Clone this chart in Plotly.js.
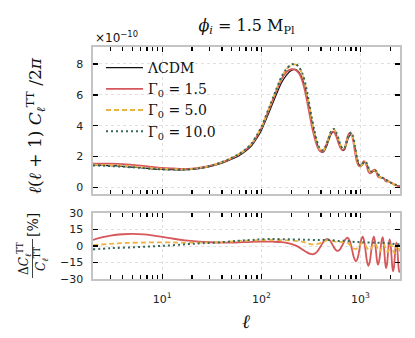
<!DOCTYPE html>
<html><head><meta charset="utf-8">
<script src="https://cdn.plot.ly/plotly-3.0.1.min.js"></script>
<style>html,body{margin:0;padding:0;background:#fff}#chart{width:415px;height:338px}</style>
</head><body><div id="chart"></div>
<script>
// ---- data ----
const ell = [2,3,4,6,8,10,13,16,20,25,30,40,50,60,70,80,90,100,120,140,160,180,200,220,240,260,280,300,320,340,360,380,400,420,450,480,510,540,570,600,630,660,690,720,760,800,840,880,920,960,1000,1040,1080,1120,1160,1200,1250,1300,1350,1400,1450,1500,1600,1700,1800,1900,2000,2200,2500];
const lcdm = [1.47,1.42,1.37,1.28,1.21,1.17,1.15,1.14,1.17,1.25,1.35,1.58,1.83,2.08,2.38,2.72,3.2,3.7,4.9,5.95,6.8,7.3,7.58,7.65,7.45,7.0,6.3,5.35,4.4,3.6,2.95,2.52,2.32,2.3,2.6,3.1,3.5,3.6,3.4,3.0,2.62,2.4,2.45,2.8,3.25,3.42,3.2,2.55,1.9,1.5,1.36,1.45,1.6,1.65,1.5,1.25,1.03,1.0,1.05,1.08,1.02,0.85,0.65,0.58,0.5,0.42,0.33,0.2,0.07];
const gamma15 = [1.55,1.55,1.52,1.42,1.33,1.27,1.23,1.2,1.22,1.3,1.4,1.63,1.89,2.15,2.46,2.82,3.32,3.84,5.09,6.17,7.04,7.5,7.66,7.62,7.38,6.85,6.02,5.03,4.08,3.34,2.79,2.44,2.32,2.36,2.75,3.27,3.6,3.58,3.3,2.87,2.54,2.42,2.55,2.98,3.48,3.52,3.07,2.27,1.65,1.41,1.37,1.55,1.7,1.6,1.34,1.03,0.91,0.98,1.13,1.14,0.96,0.71,0.64,0.63,0.4,0.39,0.34,0.18,0.06];
const gamma50 = [1.48,1.45,1.41,1.32,1.25,1.21,1.19,1.18,1.21,1.29,1.39,1.64,1.91,2.18,2.49,2.86,3.37,3.9,5.17,6.27,7.16,7.68,7.93,7.97,7.78,7.28,6.49,5.47,4.47,3.65,2.99,2.57,2.38,2.38,2.72,3.26,3.68,3.76,3.54,3.11,2.71,2.5,2.55,2.91,3.35,3.44,3.17,2.49,1.86,1.48,1.37,1.48,1.64,1.67,1.49,1.23,0.99,0.99,1.06,1.1,1.02,0.83,0.63,0.59,0.49,0.4,0.33,0.19,0.07];
const gamma100 = [1.43,1.39,1.35,1.27,1.21,1.17,1.16,1.16,1.19,1.28,1.39,1.64,1.91,2.18,2.5,2.87,3.39,3.93,5.2,6.3,7.2,7.7,7.96,8.0,7.8,7.35,6.62,5.62,4.63,3.79,3.1,2.65,2.44,2.42,2.74,3.27,3.69,3.79,3.57,3.14,2.74,2.51,2.57,2.93,3.4,3.56,3.33,2.65,1.97,1.55,1.41,1.5,1.65,1.7,1.55,1.29,1.06,1.03,1.08,1.11,1.05,0.88,0.67,0.6,0.51,0.43,0.34,0.2,0.07];

const ellRes15 = [2,2.5,3,4,5,6.5,8,10,13,17,22,30,40,55,75,100,130,160,190,220,250,285,310,330,362,395,428,460,491,522,554,585,624,662,701,740,780,820,860,900,937,975,1012,1050,1087,1125,1162,1200,1240,1280,1320,1360,1395,1430,1465,1500,1542,1585,1628,1670,1705,1740,1775,1810,1850,1890,1930,1970,2010,2050,2090,2130,2172,2215,2258,2300,2340,2380,2420,2460,2500];
const res15 = [5.5,8,9.5,10.7,11,10.6,9.6,8.2,6.6,5.2,4.2,3.4,3.1,3.2,3.6,3.9,3.9,3.5,2.3,0.5,-2.2,-5.5,-7.1,-7.5,-5.5,-0.5,4.5,6.5,4.9,1.0,-2.9,-4.5,-2.8,1.5,5.8,7.5,4.4,-3.3,-10.9,-14,-10.7,-2.8,5.2,8.5,4.6,-4.8,-14.1,-18,-14.1,-4.8,4.6,8.5,4.8,-4.3,-13.3,-17,-13.4,-4.5,4.4,8,3.9,-6,-15.9,-20,-16.2,-7,2.2,6,1.8,-8.5,-18.8,-23,-19.2,-10,-0.8,3,-0.9,-10.3,-19.6,-23.5,-22.5];
const ellRes50 = [2,3,4,6,10,15,20,30,40,60,80,120,180,230,255,283,311,340,370,405,440,480,507,537,568,600,623,648,673,700,740,785,835,890,925,970,1015,1060,1095,1140,1185,1230,1265,1310,1355,1400,1432,1478,1522,1560,1590,1632,1675,1710,1745,1793,1840,1880,1910,1953,1995,2030,2065,2112,2160,2200,2230,2278,2325,2360,2390,2430,2470,2500];
const res50 = [0.8,2.0,2.7,3.1,3.3,3.1,3.0,3.1,3.5,4.6,5.0,5.5,5.2,4.5,4.0,2.9,1.8,1.3,1.9,3.3,4.7,5.3,5.0,4.4,3.7,3.4,3.5,3.7,3.9,4.0,3.0,0.6,-1.8,-2.8,-2.0,0,2.0,2.8,1.8,-0.5,-2.8,-3.8,-2.9,-0.8,1.3,2.2,1.2,-1.4,-4.0,-5,-4.1,-1.8,0.6,1.5,0.5,-2.0,-4.5,-5.5,-4.5,-2.0,0.5,1.5,0.3,-2.5,-5.3,-6.5,-5.4,-2.7,0.1,1.2,0.3,-1.9,-4.1,-5];
const ellRes100 = [2,3,5,8,12,18,25,40,60,80,120,200,300,400,500,600,700,800,900,1000,1200,1400,1600,1800,2000,2200,2500];
const res100 = [-3.0,-2.0,-1.2,-0.3,0.5,1.7,2.5,3.5,4.8,5.5,6.3,6.0,5.6,5.5,5.4,4.6,4.8,4.2,3.6,3.5,3.2,3.0,2.8,2.6,2.2,1.8,1.5];

const seriesNames = ['ΛCDM','Γ<sub>0</sub> = 1.5','Γ<sub>0</sub> = 5.0','Γ<sub>0</sub> = 10.0'];
const xMajorVals = [10,100,1000];
const xMajorText = ['10<sup>1</sup>','10<sup>2</sup>','10<sup>3</sup>'];
const xMinorVals = [3,4,5,6,7,8,9,20,30,40,50,60,70,80,90,200,300,400,500,600,700,800,900,2000];
const yTopTicks = [0,2,4,6,8];
const yBotTicks = [-30,-15,0,15,30];

// ---- styles ----
const colors = ['#111111','#d6585b','#eeb23e','#36685a'];
const dashes = ['solid','solid','5px,3px','2px,3px'];
const widths = [1.2,1.8,1.8,2.0];

// ---- layout helpers (pixel -> paper) ----
const L = 93, R = 400, T = 47, B = 279;
const xp = px => (px - L) / (R - L);
const yp = py => (B - py) / (B - T);

const topSeries = [lcdm, gamma15, gamma50, gamma100];
const traces = [];
topSeries.forEach((ys, i) => {
  traces.push({x: ell, y: ys, type: 'scatter', mode: 'lines', name: seriesNames[i],
    xaxis: 'x', yaxis: 'y',
    line: {color: colors[i], width: widths[i], dash: dashes[i], shape: 'spline', smoothing: 0.8}});
});
const resSeries = [[ellRes15, res15], [ellRes50, res50], [ellRes100, res100]];
resSeries.forEach((s, j) => {
  const i = j + 1;
  traces.push({x: s[0], y: s[1], type: 'scatter', mode: 'lines', showlegend: false,
    xaxis: 'x2', yaxis: 'y2',
    line: {color: colors[i], width: widths[i], dash: dashes[i], shape: 'spline', smoothing: 1}});
});

const tickFont = {family: 'DejaVu Sans', size: 11, color: '#222'};
function xCfg(showLabels, anchor) {
  return {type: 'log', range: [Math.log10(2), Math.log10(2500)], anchor: anchor,
    tickmode: 'array', tickvals: xMajorVals, ticktext: xMajorText, showticklabels: showLabels,
    ticks: 'inside', ticklen: 5, tickwidth: 1.4, tickcolor: '#000',
    minor: {tickmode: 'array', tickvals: xMinorVals, ticks: 'inside', ticklen: 4, tickwidth: 1.3, tickcolor: '#000', showgrid: false},
    showline: true, linecolor: '#c4c4c4', linewidth: 1.6, mirror: 'ticks',
    showgrid: true, gridcolor: '#d8d8d8', gridwidth: 0.8, griddash: 'dot',
    zeroline: false, tickfont: tickFont, ticklabelstandoff: 9, layer: 'above traces'};
}
function yCfg(domain, range, vals, anchor) {
  return {domain: domain, range: range, anchor: anchor, tickmode: 'array', tickvals: vals,
    ticks: 'inside', ticklen: 5, tickwidth: 1.4, tickcolor: '#000',
    showline: true, linecolor: '#c4c4c4', linewidth: 1.6, mirror: 'ticks',
    showgrid: true, gridcolor: '#d8d8d8', gridwidth: 0.8, griddash: 'dot',
    zeroline: false, tickfont: tickFont, ticklabelstandoff: 6, layer: 'above traces'};
}

const serif = 'DejaVu Serif';
const layout = {
  width: 415, height: 338,
  margin: {l: L, r: 415 - R, t: T, b: 338 - B},
  paper_bgcolor: '#fff', plot_bgcolor: '#fff',
  showlegend: true,
  title: {text: '<i>ϕ</i><sub><i>i</i></sub> = 1.5 M<sub>Pl</sub>', font: {family: serif, size: 16, color: '#111'},
    x: 0.5, xref: 'paper', y: 1 - 25 / 338, yref: 'container', yanchor: 'middle'},
  xaxis: xCfg(false, 'y'),
  xaxis2: xCfg(true, 'y2'),
  yaxis: yCfg([yp(194), 1], [-0.42, 9.1], yTopTicks, 'x'),
  yaxis2: yCfg([0, yp(213)], [-30, 30], yBotTicks, 'x2'),
  legend: {x: xp(101), y: yp(52), xanchor: 'left', yanchor: 'top', bgcolor: 'rgba(0,0,0,0)',
    font: {family: serif, size: 14, color: '#111'}, tracegroupgap: 0, itemwidth: 37},
  annotations: [
    {text: '×10<sup>−10</sup>', xref: 'paper', yref: 'paper', x: 0, y: 1, xanchor: 'left', yanchor: 'bottom',
      showarrow: false, font: {family: 'DejaVu Sans', size: 12, color: '#111'}},
    {text: '<i>ℓ</i>(<i>ℓ</i> + 1) <i>C</i><sub><i>ℓ</i></sub><sup>TT</sup> /2<i>π</i>', xref: 'paper', yref: 'paper',
      x: xp(35), y: yp(126), xanchor: 'center', yanchor: 'middle', textangle: -90, showarrow: false,
      font: {family: serif, size: 17, color: '#111'}},
    {text: 'Δ<i>C</i><sub><i>ℓ</i></sub><sup>TT</sup>', xref: 'paper', yref: 'paper',
      x: xp(24), y: yp(259), xanchor: 'center', yanchor: 'middle', textangle: -90, showarrow: false,
      font: {family: serif, size: 12, color: '#111'}},
    {text: '<i>C</i><sub><i>ℓ</i></sub><sup>TT</sup>', xref: 'paper', yref: 'paper',
      x: xp(41), y: yp(259), xanchor: 'center', yanchor: 'middle', textangle: -90, showarrow: false,
      font: {family: serif, size: 12, color: '#111'}},
    {text: '[%]', xref: 'paper', yref: 'paper',
      x: xp(33), y: yp(225), xanchor: 'center', yanchor: 'middle', textangle: -90, showarrow: false,
      font: {family: serif, size: 14, color: '#111'}},
    {text: '<i>ℓ</i>', xref: 'paper', yref: 'paper',
      x: xp(246), y: yp(321), xanchor: 'center', yanchor: 'middle', showarrow: false,
      font: {family: serif, size: 19, color: '#111'}}
  ],
  shapes: [
    {type: 'line', xref: 'paper', yref: 'paper', x0: xp(32.5), x1: xp(32.5), y0: yp(239), y1: yp(278),
      line: {color: '#111', width: 0.8}}
  ]
};

Plotly.newPlot('chart', traces, layout, {displayModeBar: false, staticPlot: true});
</script>
</body></html>
